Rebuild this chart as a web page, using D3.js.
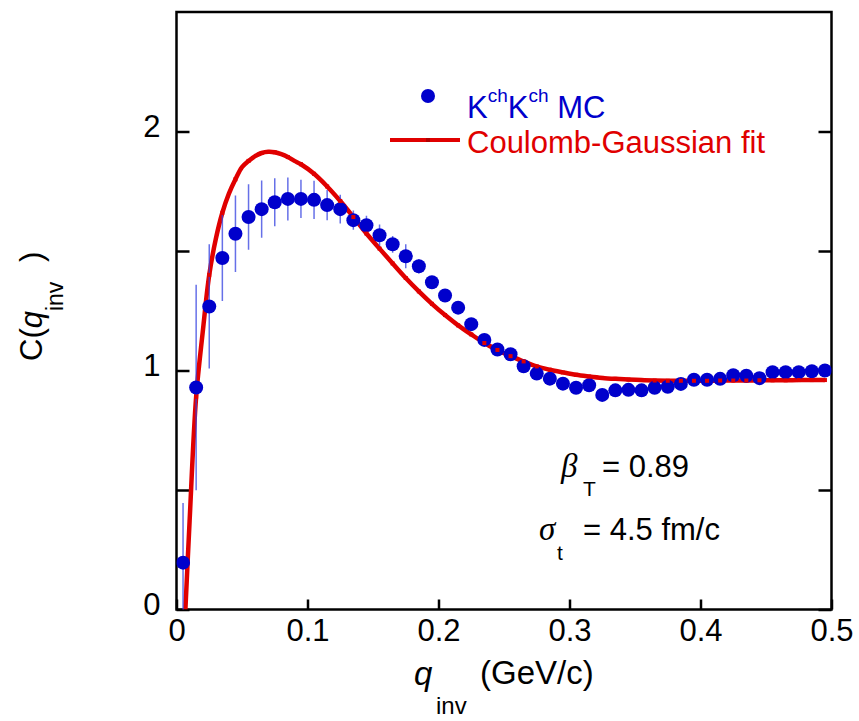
<html>
<head>
<script src="https://d3js.org/d3.v7.min.js"></script>
<style>
  body { margin: 0; background: #fff; }
  svg { font-family: "Liberation Sans", Arial, sans-serif; }
  .axis path.domain { display: none; }
  .axis line { stroke: #000; stroke-width: 2.5; }
  .axis text { font-size: 31px; fill: #000; }
</style>
</head>
<body>
<div id="chart"></div>
<script>
// K^ch K^ch MC points
var qData = [0.005, 0.015, 0.025, 0.035, 0.045, 0.055, 0.065, 0.075, 0.085, 0.095,
             0.105, 0.115, 0.125, 0.135, 0.145, 0.155, 0.165, 0.175, 0.185, 0.195,
             0.205, 0.215, 0.225, 0.235, 0.245, 0.255, 0.265, 0.275, 0.285, 0.295,
             0.305, 0.315, 0.325, 0.335, 0.345, 0.355, 0.365, 0.375, 0.385, 0.395,
             0.405, 0.415, 0.425, 0.435, 0.445, 0.455, 0.465, 0.475, 0.485, 0.495]
var cData = [0.196, 0.929, 1.268, 1.471, 1.572, 1.642, 1.675, 1.704, 1.718, 1.718,
             1.714, 1.692, 1.675, 1.629, 1.608, 1.566, 1.528, 1.478, 1.436, 1.369,
             1.314, 1.263, 1.194, 1.128, 1.088, 1.068, 1.018, 0.987, 0.966, 0.945,
             0.928, 0.938, 0.898, 0.917, 0.919, 0.917, 0.928, 0.932, 0.944, 0.961,
             0.961, 0.965, 0.980, 0.978, 0.968, 0.993, 0.993, 0.993, 0.997, 1.000]
var cErr = [0.25, 0.43, 0.26, 0.18, 0.16, 0.137, 0.12, 0.10, 0.09, 0.08,
            0.08, 0.063, 0.06, 0.04, 0.04, 0.045, 0.035, 0.05, 0.03, 0.025,
            0.025, 0.02, 0.02, 0.02, 0.02, 0.02, 0.018, 0.018, 0.018, 0.018,
            0.016, 0.016, 0.016, 0.016, 0.015, 0.015, 0.015, 0.015, 0.015, 0.015,
            0.014, 0.014, 0.014, 0.014, 0.014, 0.013, 0.013, 0.013, 0.013, 0.013]

// Coulomb-Gaussian fit curve
var qFit = [0.0068, 0.010, 0.015, 0.020, 0.025, 0.030, 0.035, 0.040, 0.045, 0.050,
            0.055, 0.060, 0.065, 0.070, 0.075, 0.080, 0.085, 0.090, 0.095,
            0.105, 0.115, 0.125, 0.135, 0.145, 0.155, 0.165, 0.175, 0.185, 0.195,
            0.205, 0.215, 0.225, 0.235, 0.245, 0.255, 0.265, 0.275, 0.285, 0.295,
            0.305, 0.315, 0.325, 0.335, 0.345, 0.355, 0.365, 0.375, 0.385, 0.395,
            0.405, 0.415, 0.425, 0.435, 0.445, 0.455, 0.465, 0.475, 0.485, 0.495]
var cFit = [0.0, 0.37, 0.89, 1.16, 1.40, 1.55, 1.66, 1.74, 1.80, 1.851,
            1.877, 1.897, 1.910, 1.915, 1.913, 1.905, 1.893, 1.877, 1.863,
            1.823, 1.770, 1.709, 1.642, 1.573, 1.510, 1.448, 1.387, 1.331, 1.279,
            1.232, 1.189, 1.151, 1.115, 1.086, 1.060, 1.038, 1.017, 1.003, 0.992,
            0.982, 0.975, 0.969, 0.965, 0.962, 0.960, 0.958, 0.957, 0.957, 0.957,
            0.957, 0.958, 0.958, 0.958, 0.959, 0.959, 0.959, 0.960, 0.960, 0.960]

var xTicks = [0, 0.1, 0.2, 0.3, 0.4, 0.5]
var yTicks = [0, 0.5, 1, 1.5, 2]

var blue = "#0000cc", red = "#e00000"

var svg = d3.select("#chart").append("svg")
    .attr("width", 859).attr("height", 721)

var x = d3.scaleLinear().domain([0, 0.5]).range([176.5, 831.5])
var y = d3.scaleLinear().domain([0, 2.5]).range([609.5, 12])

svg.append("clipPath").attr("id", "plot")
  .append("rect")
    .attr("x", x(0)).attr("y", y(2.5))
    .attr("width", x(0.5) - x(0)).attr("height", y(0) - y(2.5))

// axes (ticks inward)
svg.append("g").attr("class", "axis")
    .attr("transform", `translate(0,${y(0)})`)
    .call(d3.axisBottom(x).tickValues(xTicks).tickSize(-10).tickPadding(9)
      .tickFormat(d => d === 0 ? "0" : d3.format(".1f")(d)))

svg.append("g").attr("class", "axis")
    .attr("transform", `translate(${x(0)},0)`)
    .call(d3.axisLeft(y).tickValues(yTicks).tickSize(-13).tickPadding(16)
      .tickFormat(d => Number.isInteger(d) ? d : ""))
  .selectAll("text").attr("dy", "0.16em")

svg.append("g").attr("class", "axis")
    .attr("transform", `translate(${x(0.5)},0)`)
    .call(d3.axisRight(y).tickValues(yTicks).tickSize(-13).tickFormat(""))

svg.append("rect")
    .attr("x", x(0)).attr("y", y(2.5))
    .attr("width", x(0.5) - x(0)).attr("height", y(0) - y(2.5))
    .attr("fill", "none").attr("stroke", "#000").attr("stroke-width", 2.5)

var plot = svg.append("g").attr("clip-path", "url(#plot)")

var fit = qFit.map((q, i) => ({q: q, c: cFit[i]}))
var pts = qData.map((q, i) => ({q: q, c: cData[i], e: cErr[i]}))

plot.append("path")
    .datum(fit)
    .attr("fill", "none")
    .attr("stroke", red)
    .attr("stroke-width", 4.5)
    .attr("d", d3.line().x(d => x(d.q)).y(d => y(d.c)).curve(d3.curveCatmullRom))

plot.selectAll("line.err")
  .data(pts)
  .join("line")
    .attr("class", "err")
    .attr("x1", d => x(d.q)).attr("x2", d => x(d.q))
    .attr("y1", d => y(d.c - d.e)).attr("y2", d => y(d.c + d.e))
    .attr("stroke", "#3340e0").attr("stroke-opacity", 0.75).attr("stroke-width", 1.5)

plot.selectAll("circle.pt")
  .data(pts)
  .join("circle")
    .attr("class", "pt")
    .attr("cx", d => x(d.q)).attr("cy", d => y(d.c))
    .attr("r", 7)
    .attr("fill", blue)

// small square markers on the fit
plot.selectAll("rect.mk")
  .data(fit.filter(d => Math.round(d.q * 1000) % 10 === 5))
  .join("rect")
    .attr("class", "mk")
    .attr("x", d => x(d.q) - 2).attr("y", d => y(d.c) - 2)
    .attr("width", 4).attr("height", 4)
    .attr("fill", red)

// legend
var lg = svg.append("g")
lg.append("circle").attr("cx", 428).attr("cy", 96).attr("r", 7).attr("fill", blue)
var t1 = lg.append("text").attr("x", 467).attr("y", 118)
    .attr("fill", blue).style("font-size", "31px")
t1.append("tspan").text("K")
t1.append("tspan").attr("dy", -16).style("font-size", "19px").text("ch")
t1.append("tspan").attr("dy", 16).text("K")
t1.append("tspan").attr("dy", -16).style("font-size", "19px").text("ch")
t1.append("tspan").attr("dy", 16).text(" MC")

lg.append("line").attr("x1", 390).attr("x2", 460).attr("y1", 140).attr("y2", 140)
    .attr("stroke", red).attr("stroke-width", 4)
lg.append("rect").attr("x", 426).attr("y", 138).attr("width", 4).attr("height", 4).attr("fill", "#b00000")
lg.append("text").attr("x", 467).attr("y", 153)
    .attr("fill", red).style("font-size", "31px")
    .text("Coulomb-Gaussian fit")

// annotations
var ann = svg.append("g").style("font-size", "31px")
ann.append("text").attr("x", 561).attr("y", 477)
    .style("font-family", "'Liberation Serif', serif").style("font-style", "italic")
    .style("font-size", "33px").text("β")
ann.append("text").attr("x", 583).attr("y", 496).style("font-size", "21px").text("T")
ann.append("text").attr("x", 602).attr("y", 477).text("= 0.89")

ann.append("text").attr("x", 539).attr("y", 540)
    .style("font-family", "'Liberation Serif', serif").style("font-style", "italic")
    .style("font-size", "33px").text("σ")
ann.append("text").attr("x", 557).attr("y", 560).style("font-size", "21px").text("t")
ann.append("text").attr("x", 583).attr("y", 540).text("= 4.5 fm/c")

// axis titles
var xt = svg.append("g").style("font-size", "33px")
xt.append("text").attr("x", 414).attr("y", 685).style("font-style", "italic").text("q")
xt.append("text").attr("x", 436).attr("y", 714).style("font-size", "24px").text("inv")
xt.append("text").attr("x", 480).attr("y", 684).text("(GeV/c)")

var yt = svg.append("g").attr("transform", "rotate(-90)").style("font-size", "31px")
var ytx = yt.append("text").attr("x", -361).attr("y", 42)
ytx.append("tspan").text("C(")
ytx.append("tspan").style("font-style", "italic").text("q")
ytx.append("tspan").attr("dy", 21).style("font-size", "23px").text("inv")
yt.append("text").attr("x", -262).attr("y", 42).text(")")
</script>
</body>
</html>
